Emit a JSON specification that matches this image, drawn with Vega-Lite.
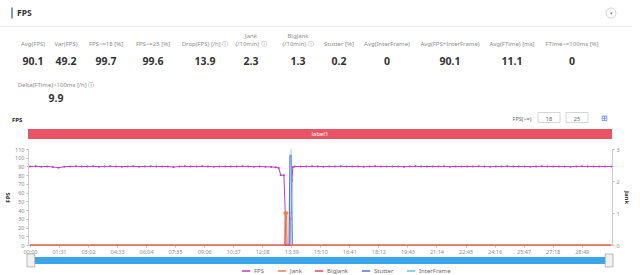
{
  "$schema": "https://vega.github.io/schema/vega-lite/v6.json",
  "padding": 0,
  "background": "white",
  "bounds": "flush",
  "spacing": 0,
  "config": {
    "view": {"stroke": null},
    "font": "Noto Sans",
    "text": {"font": "Noto Sans"},
    "axis": {"grid": false, "labelFont": "Noto Sans", "titleFont": "Noto Sans"},
    "legend": {"labelFont": "Noto Sans"}
  },
  "vconcat": [
    {
      "width": 584,
      "height": 26,
      "view": {"fill": "white", "stroke": null},
      "data": {"values": [{"k": 0, "t": "|"}, {"k": 1, "t": "FPS"}, {"k": 2, "t": "▾"}]},
      "layer": [
        {
          "transform": [{"filter": "datum.k == 0"}],
          "mark": {"type": "tick", "size": 11, "thickness": 2, "color": "#4b68d8"},
          "encoding": {"x": {"field": "k", "type": "quantitative", "scale": {"domain": [0, 1, 2], "range": [-16, -11, 583], "zero": false, "nice": false}, "axis": null}}
        },
        {
          "transform": [{"filter": "datum.k == 1"}],
          "mark": {"type": "text", "align": "left", "fontWeight": "bold", "fontSize": 8.5, "color": "#333"},
          "encoding": {"x": {"field": "k", "type": "quantitative"}, "text": {"field": "t", "type": "nominal"}}
        },
        {
          "transform": [{"filter": "datum.k == 2"}],
          "mark": {"type": "point", "shape": "circle", "size": 100, "filled": false, "stroke": "#c8c8c8", "strokeWidth": 0.8, "opacity": 1},
          "encoding": {"x": {"field": "k", "type": "quantitative"}}
        },
        {
          "transform": [{"filter": "datum.k == 2"}],
          "mark": {"type": "text", "fontSize": 5, "color": "#888"},
          "encoding": {"x": {"field": "k", "type": "quantitative"}, "text": {"field": "t", "type": "nominal"}}
        }
      ]
    },
    {
      "width": 584,
      "height": 1,
      "data": {"values": [{"a": 0, "b": 1}]},
      "mark": {"type": "rect", "color": "#eeeeee"},
      "encoding": {
        "x": {"field": "a", "type": "quantitative", "scale": {"domain": [0, 1], "range": [-28, 604], "zero": false, "nice": false}, "axis": null},
        "x2": {"field": "b"}
      }
    },
    {
      "width": 584,
      "height": 43,
      "data": {"values": [
        {"i": 1, "top": "", "label": "Avg(FPS)", "value": "90.1"},
        {"i": 2, "top": "", "label": "Var(FPS)", "value": "49.2"},
        {"i": 3, "top": "", "label": "FPS>=18 [%]", "value": "99.7"},
        {"i": 4, "top": "", "label": "FPS>=25 [%]", "value": "99.6"},
        {"i": 5, "top": "", "label": "Drop(FPS) [/h] ⓘ", "value": "13.9"},
        {"i": 6, "top": "Jank", "label": "(/10min) ⓘ", "value": "2.3"},
        {"i": 7, "top": "BigJank", "label": "(/10min) ⓘ", "value": "1.3"},
        {"i": 8, "top": "", "label": "Stutter [%]", "value": "0.2"},
        {"i": 9, "top": "", "label": "Avg(InterFrame)", "value": "0"},
        {"i": 10, "top": "", "label": "Avg(FPS+InterFrame)", "value": "90.1"},
        {"i": 11, "top": "", "label": "Avg(FTime) [ms]", "value": "11.1"},
        {"i": 12, "top": "", "label": "FTime>=100ms [%]", "value": "0"}
      ]},
      "encoding": {
        "x": {"field": "i", "type": "quantitative", "scale": {"domain": [1, 2, 3, 4, 5, 6, 7, 8, 9, 10, 11, 12], "range": [5, 38, 78, 125, 177, 223, 270, 311, 359, 422, 484, 544], "zero": false, "nice": false}, "axis": null}
      },
      "layer": [
        {
          "transform": [{"filter": "datum.top != ''"}],
          "mark": {"type": "text", "baseline": "middle", "dy": -12.3, "fontSize": 6, "color": "#8c8c8c"},
          "encoding": {"text": {"field": "top", "type": "nominal"}}
        },
        {
          "mark": {"type": "text", "baseline": "middle", "dy": -4.3, "fontSize": 6, "color": "#8c8c8c"},
          "encoding": {"text": {"field": "label", "type": "nominal"}}
        },
        {
          "mark": {"type": "text", "baseline": "middle", "dy": 13.5, "fontSize": 10.5, "fontWeight": "bold", "color": "#333"},
          "encoding": {"text": {"field": "value", "type": "nominal"}}
        }
      ]
    },
    {
      "width": 584,
      "height": 36,
      "data": {"values": [{"i": 1, "label": "Delta(FTime)>100ms [/h] ⓘ", "value": "9.9"}]},
      "encoding": {
        "x": {"field": "i", "type": "quantitative", "scale": {"domain": [0, 1], "range": [0, 28], "zero": false, "nice": false}, "axis": null}
      },
      "layer": [
        {
          "mark": {"type": "text", "baseline": "middle", "dy": -3, "fontSize": 6, "color": "#8c8c8c"},
          "encoding": {"text": {"field": "label", "type": "nominal"}}
        },
        {
          "mark": {"type": "text", "baseline": "middle", "dy": 11.3, "fontSize": 10.5, "fontWeight": "bold", "color": "#333"},
          "encoding": {"text": {"field": "value", "type": "nominal"}}
        }
      ]
    },
    {
      "width": 584,
      "height": 23,
      "data": {"values": [
        {"k": 0, "t": "FPS"},
        {"k": 1, "t": "FPS(>=)"},
        {"k": 2, "t": "18"},
        {"k": 3, "t": "25"},
        {"k": 4, "t": "⊞"}
      ]},
      "encoding": {
        "x": {"field": "k", "type": "quantitative", "scale": {"domain": [0, 1, 2, 3, 4], "range": [-16, 494, 521, 549, 576], "zero": false, "nice": false}, "axis": null}
      },
      "layer": [
        {
          "transform": [{"filter": "datum.k == 0"}],
          "mark": {"type": "text", "align": "left", "dy": 2.5, "fontSize": 6, "fontWeight": "bold", "color": "#222"},
          "encoding": {"text": {"field": "t", "type": "nominal"}}
        },
        {
          "transform": [{"filter": "datum.k == 2 || datum.k == 3"}],
          "mark": {"type": "point", "shape": "M-1,-0.4545H1V0.4545H-1Z", "size": 484, "filled": true, "fill": "white", "stroke": "#cccccc", "strokeWidth": 0.8, "opacity": 1, "dy": 1},
          "encoding": {}
        },
        {
          "transform": [{"filter": "datum.k >= 1 && datum.k <= 3"}],
          "mark": {"type": "text", "dy": 1, "fontSize": 5.5, "color": "#666"},
          "encoding": {"text": {"field": "t", "type": "nominal"}}
        },
        {
          "transform": [{"filter": "datum.k == 4"}],
          "mark": {"type": "text", "dy": 1, "fontSize": 8, "color": "#4a77d4"},
          "encoding": {"text": {"field": "t", "type": "nominal"}}
        }
      ]
    },
    {
      "width": 584,
      "height": 10,
      "data": {"values": [{"label": "label1", "start": -6, "end": 1824}]},
      "layer": [
        {
          "mark": {"type": "rect", "color": "#ea5465"},
          "encoding": {
            "x": {"field": "start", "type": "quantitative", "scale": {"domain": [-6, 1824], "zero": false, "nice": false}, "axis": null},
            "x2": {"field": "end"}
          }
        },
        {
          "mark": {"type": "text", "color": "white", "fontSize": 6},
          "encoding": {"text": {"field": "label", "type": "nominal"}}
        }
      ]
    },
    {
      "width": 584,
      "height": 10,
      "data": {"values": [{}]},
      "mark": {"type": "text"},
      "encoding": {"text": {"value": ""}}
    },
    {
      "width": 584,
      "height": 96,
      "encoding": {
        "x": {
          "field": "t", "type": "quantitative",
          "scale": {"domain": [-6, 1824], "zero": false, "nice": false},
          "axis": {
            "values": [0, 91, 182, 273, 364, 455, 546, 637, 728, 819, 910, 1001, 1092, 1183, 1274, 1365, 1456, 1547, 1638, 1729],
            "labelExpr": "pad(floor(datum.value / 60) + '', 2, '0', 'left') + ':' + pad((datum.value % 60) + '', 2, '0', 'left')",
            "title": null, "labelFontSize": 5.5, "labelColor": "#8c8c8c", "tickSize": 2, "tickColor": "#bbbbbb",
            "domainColor": "#cccccc", "labelPadding": 2, "labelOverlap": false, "labelFlush": false, "labelSeparation": 0
          }
        }
      },
      "layer": [
        {
          "data": {"values": [
            {"s": "FPS", "t": 0, "v": 90}, {"s": "FPS", "t": 18, "v": 90.2}, {"s": "FPS", "t": 36, "v": 89.8}, {"s": "FPS", "t": 54, "v": 90},
            {"s": "FPS", "t": 72, "v": 89.4}, {"s": "FPS", "t": 90, "v": 88.6}, {"s": "FPS", "t": 108, "v": 89.7}, {"s": "FPS", "t": 126, "v": 90},
            {"s": "FPS", "t": 144, "v": 90.1}, {"s": "FPS", "t": 162, "v": 89.9}, {"s": "FPS", "t": 180, "v": 90}, {"s": "FPS", "t": 198, "v": 90.1},
            {"s": "FPS", "t": 216, "v": 89.7}, {"s": "FPS", "t": 234, "v": 90}, {"s": "FPS", "t": 252, "v": 90.1}, {"s": "FPS", "t": 270, "v": 90},
            {"s": "FPS", "t": 288, "v": 89.8}, {"s": "FPS", "t": 306, "v": 90}, {"s": "FPS", "t": 324, "v": 90.1}, {"s": "FPS", "t": 342, "v": 89.8},
            {"s": "FPS", "t": 360, "v": 90}, {"s": "FPS", "t": 378, "v": 90.1}, {"s": "FPS", "t": 396, "v": 90}, {"s": "FPS", "t": 414, "v": 89.9},
            {"s": "FPS", "t": 432, "v": 90}, {"s": "FPS", "t": 450, "v": 89.3}, {"s": "FPS", "t": 468, "v": 90}, {"s": "FPS", "t": 486, "v": 90.1},
            {"s": "FPS", "t": 504, "v": 89.9}, {"s": "FPS", "t": 522, "v": 90}, {"s": "FPS", "t": 540, "v": 90.1}, {"s": "FPS", "t": 558, "v": 90},
            {"s": "FPS", "t": 576, "v": 89.8}, {"s": "FPS", "t": 594, "v": 90}, {"s": "FPS", "t": 612, "v": 90}, {"s": "FPS", "t": 630, "v": 89.9},
            {"s": "FPS", "t": 648, "v": 90}, {"s": "FPS", "t": 666, "v": 90.1}, {"s": "FPS", "t": 684, "v": 90}, {"s": "FPS", "t": 702, "v": 89.8},
            {"s": "FPS", "t": 720, "v": 90}, {"s": "FPS", "t": 738, "v": 89.6}, {"s": "FPS", "t": 756, "v": 89.5}, {"s": "FPS", "t": 770, "v": 89},
            {"s": "FPS", "t": 780, "v": 88.2}, {"s": "FPS", "t": 786, "v": 80}, {"s": "FPS", "t": 796, "v": 80}, {"s": "FPS", "t": 800, "v": 37},
            {"s": "FPS", "t": 802, "v": 0}, {"s": "FPS", "t": 815, "v": 0}, {"s": "FPS", "t": 817, "v": 30}, {"s": "FPS", "t": 819, "v": 37},
            {"s": "FPS", "t": 821, "v": 74}, {"s": "FPS", "t": 824, "v": 89.5}, {"s": "FPS", "t": 830, "v": 90}, {"s": "FPS", "t": 848, "v": 89.9},
            {"s": "FPS", "t": 866, "v": 90}, {"s": "FPS", "t": 884, "v": 90.1}, {"s": "FPS", "t": 902, "v": 90}, {"s": "FPS", "t": 920, "v": 89.8},
            {"s": "FPS", "t": 938, "v": 90}, {"s": "FPS", "t": 956, "v": 90}, {"s": "FPS", "t": 974, "v": 90.1}, {"s": "FPS", "t": 992, "v": 89.9},
            {"s": "FPS", "t": 1010, "v": 90}, {"s": "FPS", "t": 1028, "v": 90}, {"s": "FPS", "t": 1046, "v": 89.7}, {"s": "FPS", "t": 1064, "v": 90},
            {"s": "FPS", "t": 1082, "v": 90.1}, {"s": "FPS", "t": 1100, "v": 90}, {"s": "FPS", "t": 1118, "v": 89.9}, {"s": "FPS", "t": 1136, "v": 90},
            {"s": "FPS", "t": 1154, "v": 90}, {"s": "FPS", "t": 1172, "v": 89.6}, {"s": "FPS", "t": 1190, "v": 90}, {"s": "FPS", "t": 1208, "v": 90.1},
            {"s": "FPS", "t": 1226, "v": 90}, {"s": "FPS", "t": 1244, "v": 89.9}, {"s": "FPS", "t": 1262, "v": 90}, {"s": "FPS", "t": 1280, "v": 90},
            {"s": "FPS", "t": 1298, "v": 90.1}, {"s": "FPS", "t": 1316, "v": 89.8}, {"s": "FPS", "t": 1334, "v": 90}, {"s": "FPS", "t": 1352, "v": 90},
            {"s": "FPS", "t": 1370, "v": 89.9}, {"s": "FPS", "t": 1388, "v": 90}, {"s": "FPS", "t": 1406, "v": 90.1}, {"s": "FPS", "t": 1424, "v": 90},
            {"s": "FPS", "t": 1442, "v": 89.7}, {"s": "FPS", "t": 1460, "v": 90}, {"s": "FPS", "t": 1478, "v": 90}, {"s": "FPS", "t": 1496, "v": 90.1},
            {"s": "FPS", "t": 1514, "v": 89.9}, {"s": "FPS", "t": 1532, "v": 90}, {"s": "FPS", "t": 1550, "v": 90}, {"s": "FPS", "t": 1568, "v": 89.8},
            {"s": "FPS", "t": 1586, "v": 90}, {"s": "FPS", "t": 1604, "v": 90.1}, {"s": "FPS", "t": 1622, "v": 90}, {"s": "FPS", "t": 1640, "v": 89.9},
            {"s": "FPS", "t": 1658, "v": 90}, {"s": "FPS", "t": 1676, "v": 90}, {"s": "FPS", "t": 1694, "v": 89.7}, {"s": "FPS", "t": 1712, "v": 90},
            {"s": "FPS", "t": 1730, "v": 90.1}, {"s": "FPS", "t": 1748, "v": 90}, {"s": "FPS", "t": 1766, "v": 89.9}, {"s": "FPS", "t": 1784, "v": 90},
            {"s": "FPS", "t": 1802, "v": 90}, {"s": "FPS", "t": 1822, "v": 89.9}
          ]},
          "encoding": {
            "y": {
              "field": "v", "type": "quantitative",
              "scale": {"domain": [0, 110], "nice": false},
              "axis": {
                "values": [0, 10, 20, 30, 40, 50, 60, 70, 80, 90, 100, 110],
                "title": "FPS", "titleFontSize": 6, "titleFontWeight": "bold", "titleColor": "#333",
                "titlePadding": 4, "labelFontSize": 5.5, "labelColor": "#8c8c8c", "tickSize": 2,
                "tickColor": "#bbbbbb", "domainColor": "#cccccc", "labelPadding": 2
              }
            }
          },
          "layer": [
            {
              "mark": {"type": "line", "strokeWidth": 1},
              "encoding": {
                "color": {
                  "field": "s", "type": "nominal",
                  "scale": {"domain": ["FPS", "Jank", "BigJank", "Stutter", "InterFrame"], "range": ["#c837c8", "#f5813d", "#e24b55", "#4a77d4", "#62c6f0"]},
                  "legend": {
                    "orient": "none", "legendX": 213, "legendY": 266, "direction": "horizontal", "title": null,
                    "labelFontSize": 6, "labelColor": "#666", "symbolType": "stroke", "symbolStrokeWidth": 1.5,
                    "symbolSize": 70, "columnPadding": 9, "labelOffset": 3
                  }
                }
              }
            },
            {
              "mark": {"type": "point", "filled": true, "size": 4, "color": "#c837c8", "opacity": 1}
            }
          ]
        },
        {
          "data": {"values": [
            {"s": "Jank", "t": 0, "v": 0}, {"s": "Jank", "t": 798, "v": 0}, {"s": "Jank", "t": 800, "v": 1},
            {"s": "Jank", "t": 804, "v": 1}, {"s": "Jank", "t": 806, "v": 0}, {"s": "Jank", "t": 1822, "v": 0},
            {"s": "Stutter", "t": 812, "v": 0}, {"s": "Stutter", "t": 815, "v": 2.8}, {"s": "Stutter", "t": 819, "v": 2.8}, {"s": "Stutter", "t": 822, "v": 0},
            {"s": "BigJank", "t": 0, "v": 0}, {"s": "BigJank", "t": 1822, "v": 0}
          ]},
          "encoding": {
            "y": {
              "field": "v", "type": "quantitative",
              "scale": {"domain": [0, 3], "nice": false},
              "axis": {
                "orient": "right", "values": [0, 1, 2, 3],
                "title": "Jank", "titleFontSize": 6, "titleFontWeight": "bold", "titleColor": "#333",
                "titlePadding": 4, "labelFontSize": 5.5, "labelColor": "#8c8c8c", "tickSize": 2,
                "tickColor": "#bbbbbb", "domainColor": "#cccccc", "labelPadding": 2
              }
            }
          },
          "layer": [
            {
              "mark": {"type": "line", "strokeWidth": 1.2},
              "encoding": {"color": {"field": "s", "type": "nominal"}}
            },
            {
              "transform": [{"filter": "datum.s == 'Jank' && datum.v > 0"}],
              "mark": {"type": "point", "filled": true, "size": 14, "color": "#f5813d", "opacity": 1}
            }
          ]
        },
        {
          "data": {"values": [{"t": 818}]},
          "mark": {"type": "rule", "color": "#8fd2f2", "strokeWidth": 1},
          "encoding": {}
        }
      ],
      "resolve": {"scale": {"y": "independent"}}
    },
    {
      "width": 584,
      "height": 12,
      "data": {"values": [{}]},
      "mark": {"type": "text"},
      "encoding": {"text": {"value": ""}}
    },
    {
      "width": 584,
      "height": 7,
      "layer": [
        {
          "data": {"values": [{"start": 0, "end": 1812}]},
          "mark": {"type": "rect", "color": "#3ba5ea"},
          "encoding": {
            "x": {"field": "start", "type": "quantitative", "scale": {"domain": [-6, 1824], "zero": false, "nice": false}, "axis": null},
            "x2": {"field": "end"}
          }
        },
        {
          "data": {"values": [{"t": 3}, {"t": 1815}]},
          "mark": {"type": "point", "shape": "M-0.6,-1H0.6V1H-0.6Z", "size": 169, "filled": true, "fill": "#f2f2f2", "stroke": "#aaaaaa", "strokeWidth": 0.8, "opacity": 1},
          "encoding": {"x": {"field": "t", "type": "quantitative"}}
        }
      ]
    }
  ]
}
